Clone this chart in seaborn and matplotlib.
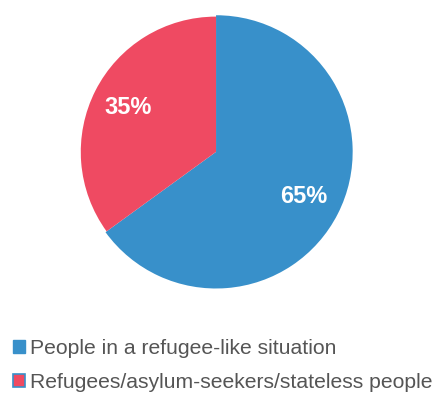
import matplotlib.pyplot as plt
import seaborn as sns
from matplotlib.patches import Patch

# data
labels = ['People in a refugee-like situation', 'Refugees/asylum-seekers/stateless people']
shares = [65, 35]
colors = ['#3890CA', '#EF4A62']

sns.set_style('white')
plt.rcParams['font.family'] = ['Liberation Sans', 'DejaVu Sans']

fig = plt.figure(figsize=(4.36, 3.96), dpi=100)
ax = fig.add_axes([0.179, 0.268, 0.633, 0.697])

wedges, texts, autotexts = ax.pie(
    shares,
    colors=colors,
    startangle=90,
    counterclock=False,
    autopct='%d%%',
    pctdistance=0.72,
    wedgeprops={'linewidth': 0},
    textprops={'color': 'white', 'fontsize': 17, 'fontweight': 'bold'},
)
# thin blue rim around the red slice, as in the original
wedges[1].set_radius(0.99)
ax.set_xlim(-1.01, 1.01)
ax.set_ylim(-1.01, 1.01)
ax.set_aspect('equal')
ax.axis('off')

handles = [Patch(facecolor=colors[0], edgecolor=colors[0], linewidth=1),
           Patch(facecolor=colors[1], edgecolor=colors[0], linewidth=1.2)]
fig.legend(handles, labels, loc='center left', bbox_to_anchor=(0.03, 0.077),
           frameon=False, fontsize=15.2, labelcolor='#555555',
           handlelength=0.55, handleheight=0.55, handletextpad=0.26,
           labelspacing=0.7, borderpad=0, borderaxespad=0)

fig.savefig('out.png', dpi=100)
